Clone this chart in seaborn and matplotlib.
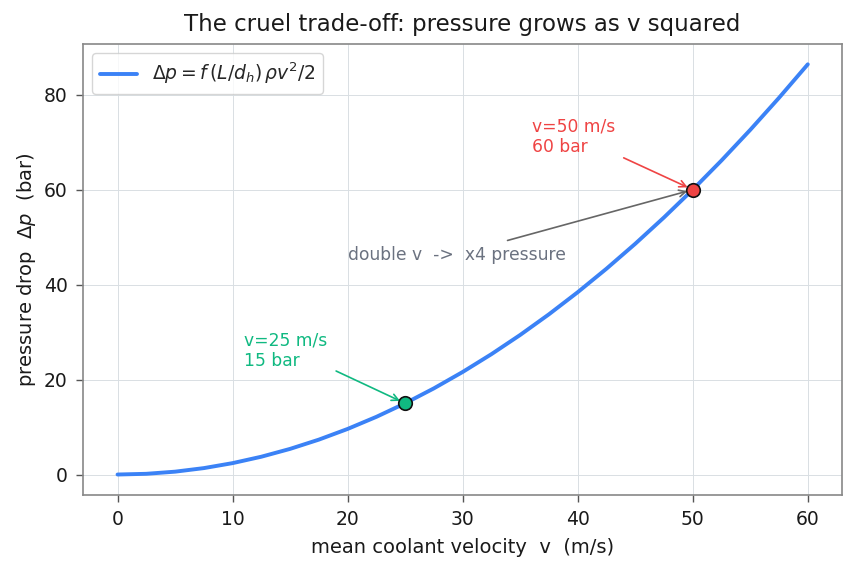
import matplotlib
matplotlib.use("Agg")
import matplotlib.pyplot as plt
import seaborn as sns
import pandas as pd

# values
velocity = [0, 2.5, 5, 7.5, 10, 12.5, 15, 17.5, 20, 22.5, 25, 27.5, 30, 32.5, 35,
            37.5, 40, 42.5, 45, 47.5, 50, 52.5, 55, 57.5, 60]
pressure = [0, 0.15, 0.6, 1.35, 2.4, 3.75, 5.4, 7.35, 9.6, 12.15, 15, 18.15, 21.6,
            25.35, 29.4, 33.75, 38.4, 43.35, 48.6, 54.15, 60, 66.15, 72.6, 79.35, 86.4]
mark_v = [25, 50]
mark_p = [15, 60]
mark_labels = ["v=25 m/s\n15 bar", "v=50 m/s\n60 bar"]

BLUE = "#3b82f6"
RED = "#ef4444"
GREEN = "#10b981"
GRAY = "#6b7280"

sns.set_theme(style="whitegrid")
plt.rcParams["font.family"] = ["DejaVu Sans"]

df = pd.DataFrame({"v": velocity, "dp": pressure})

fig, ax = plt.subplots(figsize=(8.56, 5.69), dpi=100)
sns.lineplot(data=df, x="v", y="dp", ax=ax, color=BLUE, linewidth=2.8,
             label=r"$\Delta p = f\,(L/d_h)\,\rho v^2/2$")

ax.scatter([mark_v[0]], [mark_p[0]], s=95, color=GREEN, edgecolor="#111111", linewidth=1.2, zorder=5)
ax.scatter([mark_v[1]], [mark_p[1]], s=95, color=RED, edgecolor="#111111", linewidth=1.2, zorder=5)

# green annotation
ax.text(11, 22.0, mark_labels[0], color=GREEN, fontsize=12.3, ha="left", va="bottom")
ax.annotate("", xy=(mark_v[0], mark_p[0]), xytext=(19, 21.8),
            arrowprops=dict(arrowstyle="->", color=GREEN, lw=1.2, shrinkA=0, shrinkB=4))
# red annotation
ax.text(36, 67.0, mark_labels[1], color=RED, fontsize=12.3, ha="left", va="bottom")
ax.annotate("", xy=(mark_v[1], mark_p[1]), xytext=(44, 66.7),
            arrowprops=dict(arrowstyle="->", color=RED, lw=1.2, shrinkA=0, shrinkB=4))
# gray annotation
ax.text(20, 46.3, "double v  ->  x4 pressure", color=GRAY, fontsize=12.3, ha="left", va="center")
ax.annotate("", xy=(mark_v[1], mark_p[1]), xytext=(33.9, 49.3),
            arrowprops=dict(arrowstyle="->", color="#666666", lw=1.2, shrinkA=0, shrinkB=4))

ax.set_title("The cruel trade-off: pressure grows as v squared", fontsize=16.5, color="#1a1a1a", pad=9)
ax.set_xlabel("mean coolant velocity  v  (m/s)", fontsize=14, color="#1a1a1a", labelpad=6)
ax.set_ylabel(r"pressure drop  $\Delta p$  (bar)", fontsize=14, color="#1a1a1a", labelpad=4)
ax.set_xticks([0, 10, 20, 30, 40, 50, 60])
ax.set_yticks([0, 20, 40, 60, 80])
ax.tick_params(axis="both", labelsize=13.5, length=5, width=1, color="#555555",
               labelcolor="#1a1a1a", bottom=True, left=True, pad=6)
ax.grid(True, color="#d9dee3", linewidth=0.7)
for s in ax.spines.values():
    s.set_color("#888888")
    s.set_linewidth(1.2)

leg = ax.legend(loc="upper left", fontsize=13.5, frameon=True)
leg.get_frame().set_edgecolor("#cccccc")

fig.subplots_adjust(left=0.097, right=0.984, top=0.923, bottom=0.13)
fig.savefig("out.png", dpi=100)
